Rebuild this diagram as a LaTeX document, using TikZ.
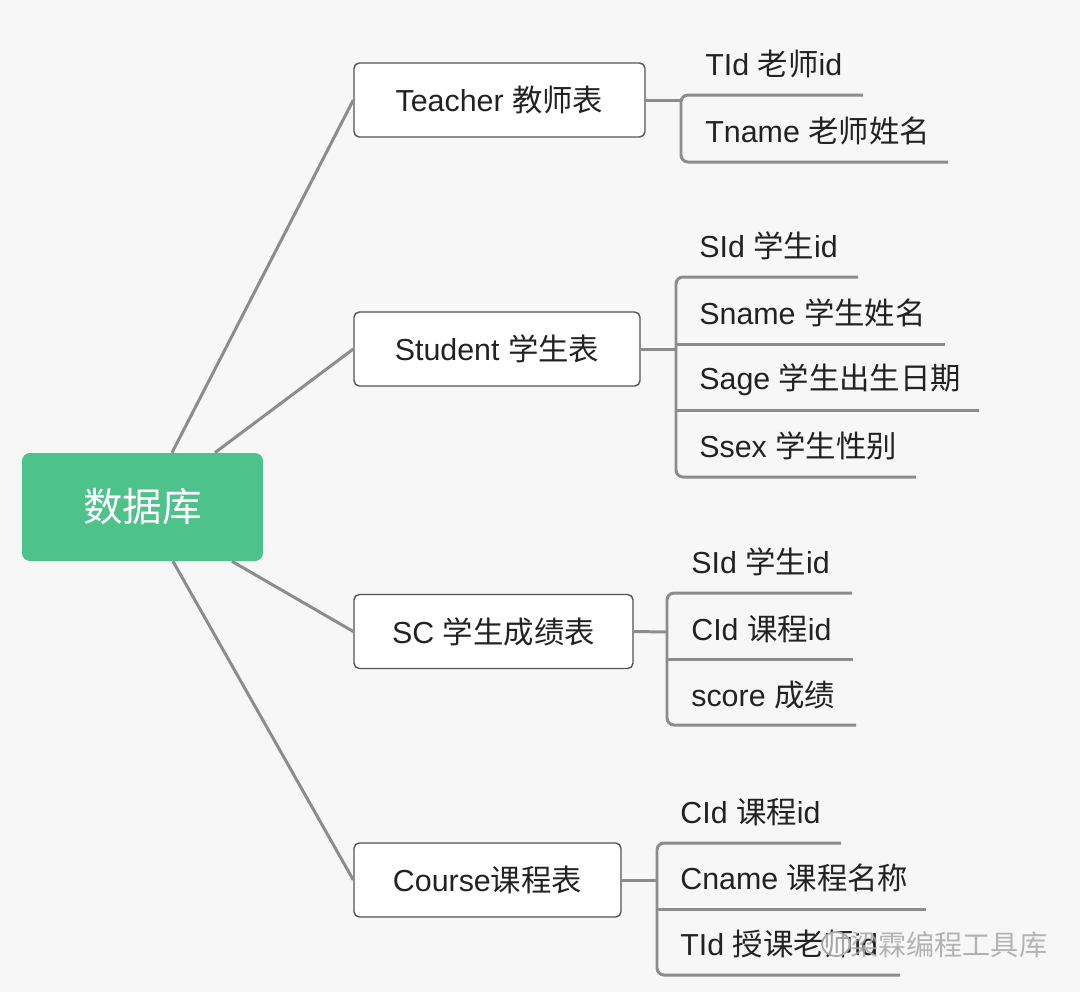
\documentclass[tikz,border=0pt]{standalone}
\usepackage{fontspec}
\setmainfont{Liberation Sans}
\newfontfamily\cjk{Noto Sans CJK SC}
\definecolor{bggray}{HTML}{F7F7F7}
\definecolor{linegray}{HTML}{8C8C8C}
\definecolor{boxgray}{HTML}{555555}
\definecolor{rootgreen}{HTML}{4DC28A}
\definecolor{txt}{HTML}{222222}
\definecolor{wmgray}{HTML}{A8A8A8}
\begin{document}
\begin{tikzpicture}[x=0.02cm,y=-0.02cm,
  conn/.style={draw=linegray, line width=1.7pt},
  bracket/.style={draw=linegray, line width=1.7pt, rounded corners=4pt},
  tablebox/.style={draw=boxgray, fill=white, rounded corners=3pt, line width=0.8pt,
     minimum height=1.48cm, inner sep=0pt, font=\fontsize{17.3}{20}\selectfont, text=txt},
  leaf/.style={anchor=west, inner sep=0pt, font=\fontsize{17.3}{20}\selectfont, text=txt},
  rootbox/.style={fill=rootgreen, rounded corners=4.5pt, minimum width=4.82cm, minimum height=2.16cm,
     inner sep=0pt, text=white, font=\fontsize{22.5}{26}\selectfont\cjk}]
\fill[bggray] (0,0) rectangle (1080,992);
\useasboundingbox (0,0) rectangle (1080,992);

% root
\node[rootbox] (root) at (142.5,507) {数据库};

% tables
\node[tablebox, minimum width=5.82cm] (teacher) at (499.5,100) {Teacher {\cjk 教师表}};
\node[tablebox, minimum width=5.72cm] (student) at (497,349) {Student {\cjk 学生表}};
\node[tablebox, minimum width=5.58cm] (sc) at (493.5,631.5) {SC {\cjk 学生成绩表}};
\node[tablebox, minimum width=5.34cm] (course) at (487.5,880) {Course{\cjk 课程表}};

% root connectors
\draw[conn] ([xshift=0.59cm]root.north) -- (teacher.west);
\draw[conn] ([xshift=1.45cm]root.north) -- (student.west);
\draw[conn] ([xshift=1.79cm]root.south) -- (sc.west);
\draw[conn] ([xshift=0.61cm]root.south) -- (course.west);

% Teacher fields
\node[leaf] (t1) at (705,64) {TId {\cjk 老师}id};
\node[leaf] (t2) at (705,131) {Tname {\cjk 老师姓名}};
\coordinate (tb) at (681,100);
\coordinate (tb1) at (681,95);  \coordinate (t1e) at (863,95);
\coordinate (tb2) at (681,162); \coordinate (t2e) at (948,162);
\draw[conn] (teacher.east) -- (tb);
\draw[bracket] (t1e) -- (tb1) -- (tb2) -- (t2e);

% Student fields
\node[leaf] (s1) at (699,246) {SId {\cjk 学生}id};
\node[leaf] (s2) at (699,313) {Sname {\cjk 学生姓名}};
\node[leaf] (s3) at (699,380) {Sage {\cjk 学生出生日期}};
\node[leaf] (s4) at (699,446) {Ssex {\cjk 学生性别}};
\coordinate (sb) at (676,349);
\coordinate (sb1) at (676,277); \coordinate (s1e) at (858,277);
\coordinate (sb2) at (676,344); \coordinate (s2e) at (945,344);
\coordinate (sb3) at (676,410); \coordinate (s3e) at (979,410);
\coordinate (sb4) at (676,477); \coordinate (s4e) at (916,477);
\draw[conn] (student.east) -- (sb);
\draw[bracket] (s1e) -- (sb1) -- (sb4) -- (s4e);
\draw[conn] (sb2) -- (s2e);
\draw[conn] (sb3) -- (s3e);

% SC fields
\node[leaf] (c1) at (691,562) {SId {\cjk 学生}id};
\node[leaf] (c2) at (691,629) {CId {\cjk 课程}id};
\node[leaf] (c3) at (691,695) {score {\cjk 成绩}};
\coordinate (cb) at (667,632);
\coordinate (cb1) at (667,593); \coordinate (c1e) at (852,593);
\coordinate (cb2) at (667,659); \coordinate (c2e) at (853,659);
\coordinate (cb3) at (667,725); \coordinate (c3e) at (856,725);
\draw[conn] (sc.east) -- (cb);
\draw[bracket] (c1e) -- (cb1) -- (cb3) -- (c3e);
\draw[conn] (cb2) -- (c2e);

% Course fields
\node[leaf] (k1) at (680,812) {CId {\cjk 课程}id};
\node[leaf] (k2) at (680,878) {Cname {\cjk 课程名称}};
\node[leaf] (k3) at (680,944) {TId {\cjk 授课老师}id};
\coordinate (kb) at (657,880);
\coordinate (kb1) at (657,843); \coordinate (k1e) at (841,843);
\coordinate (kb2) at (657,909); \coordinate (k2e) at (926,909);
\coordinate (kb3) at (657,975); \coordinate (k3e) at (900,975);
\draw[conn] (course.east) -- (kb);
\draw[bracket] (k1e) -- (kb1) -- (kb3) -- (k3e);
\draw[conn] (kb2) -- (k2e);

% watermark
\node[anchor=west, inner sep=0pt, text=wmgray, opacity=0.85, font=\fontsize{16}{20}\selectfont\cjk] (wm) at (850,945) {梁霖编程工具库};
\draw[wmgray, line width=1pt, fill=white, fill opacity=0.6] (836,944) ellipse (14 and 12);
\end{tikzpicture}
\end{document}
